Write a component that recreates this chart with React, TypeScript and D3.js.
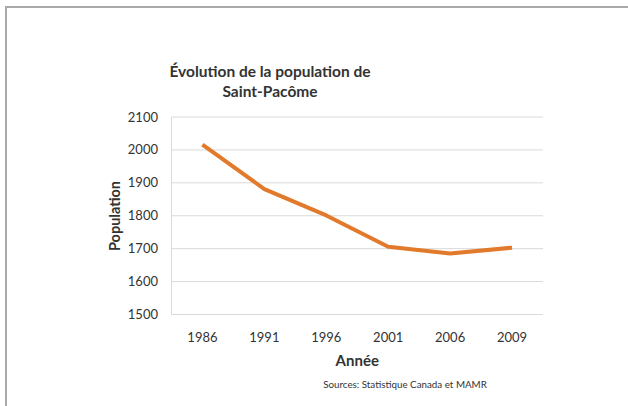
import React from 'react';
import * as d3 from 'd3';

const years = ['1986', '1991', '1996', '2001', '2006', '2009'];
const population = [2016, 1881, 1801, 1706, 1685, 1703];
const yTicks = [1500, 1600, 1700, 1800, 1900, 2000, 2100];

const width = 628;
const height = 406;
const plotLeft = 171.5;
const plotRight = 543;
const plotTop = 117;
const plotBottom = 314.5;
const font = 'Lato, "Open Sans", sans-serif';
const ink = '#333';

export default function App() {
  const x = d3.scaleBand<string>()
    .domain(years)
    .range([plotLeft, plotRight]);

  const y = d3.scaleLinear()
    .domain([1500, 2100])
    .range([plotBottom, plotTop]);

  const line = d3.line<number>()
    .x((d, i) => x(years[i])! + x.bandwidth() / 2)
    .y(d => y(d));

  const cx = (plotLeft + plotRight) / 2;

  return (
    <svg width={width} height={height} style={{ position: 'absolute', left: 0, top: 0, background: '#fff' }}>
      {/* scan frame */}
      <line x1={6} x2={width} y1={7} y2={7} stroke="#a9a9a9" strokeWidth={2} />
      <line x1={6} x2={6} y1={6} y2={height} stroke="#a9a9a9" strokeWidth={2} />

      <text x={270} y={77} textAnchor="middle" fontFamily={font} fontWeight="bold" fontSize={15.5} fill={ink}>
        Évolution de la population de
      </text>
      <text x={270} y={97} textAnchor="middle" fontFamily={font} fontWeight="bold" fontSize={15.5} fill={ink}>
        Saint-Pacôme
      </text>

      {yTicks.map(t => (
        <g key={t}>
          <line x1={plotLeft} x2={plotRight} y1={y(t)} y2={y(t)} stroke="#dadada" strokeWidth={1} />
          <text x={158} y={y(t)} dy="0.35em" textAnchor="end" fontFamily={font} fontSize={13} fill={ink}>
            {t}
          </text>
        </g>
      ))}
      <line x1={plotLeft} x2={plotLeft} y1={plotTop} y2={plotBottom} stroke="#dadada" strokeWidth={1} />

      {years.map(yr => (
        <text key={yr} x={x(yr)! + x.bandwidth() / 2} y={341.5} textAnchor="middle" fontFamily={font} fontSize={13} fill={ink}>
          {yr}
        </text>
      ))}

      <path d={line(population)!} fill="none" stroke="#e27a2c" strokeWidth={4} strokeLinejoin="round" />

      <text transform={`translate(120,216) rotate(-90)`} textAnchor="middle" fontFamily={font} fontWeight="bold" fontSize={14.5} fill={ink}>
        Population
      </text>
      <text x={cx} y={366} textAnchor="middle" fontFamily={font} fontWeight="bold" fontSize={15} fill={ink}>
        Année
      </text>
      <text x={405} y={388} textAnchor="middle" fontFamily={font} fontSize={9.8} fill={ink}>
        Sources:  Statistique Canada et MAMR
      </text>
    </svg>
  );
}
